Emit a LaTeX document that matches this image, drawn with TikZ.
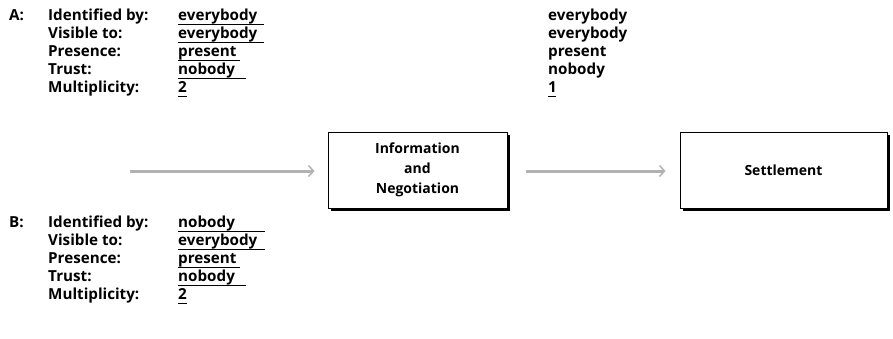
\documentclass[tikz,border=0pt]{standalone}
\usepackage{fontspec}
\setmainfont{Open Sans}
\usetikzlibrary{arrows.meta,shadows}
\begin{document}
\begin{tikzpicture}[x=1pt,y=1pt,
  txt/.style={anchor=base west, inner sep=0pt, font=\bfseries\fontsize{15.2}{18}\selectfont},
  ul/.style={line width=1.4pt},
  box/.style={draw, line width=1pt, fill=white, minimum height=76pt, align=center,
    font=\bfseries\fontsize{14}{20}\selectfont,
    drop shadow={shadow xshift=3pt, shadow yshift=-3pt, fill=black, opacity=1}},
  flow/.style={draw=gray!60, line width=3pt, -{Straight Barb[length=5pt,width=11pt,line width=1.5pt]}}
]
\useasboundingbox (0,0) rectangle (893,-338);

% A block
\node[txt] (A) at (9,-20) {A:};
\node[txt] (aL1) at (48,-20) {Identified by:};
\node[txt] (aL2) at (48,-38) {Visible to:};
\node[txt] (aL3) at (48,-56) {Presence:};
\node[txt] (aL4) at (48,-74) {Trust:};
\node[txt] (aL5) at (48,-92) {Multiplicity:};
\node[txt] (aV1) at (178,-20) {everybody};
\node[txt] (aV2) at (178,-38) {everybody};
\node[txt] (aV3) at (178,-56) {present};
\node[txt] (aV4) at (178,-74) {nobody};
\node[txt] (aV5) at (178,-92) {2};
\draw[ul] ([yshift=-4.6pt]aV1.base west) -- ++(86,0);
\draw[ul] ([yshift=-4.6pt]aV2.base west) -- ++(86,0);
\draw[ul] ([yshift=-4.6pt]aV3.base west) -- ++(62,0);
\draw[ul] ([yshift=-4.6pt]aV4.base west) -- ++(68,0);
\draw[ul] ([yshift=-4.6pt]aV5.base west) -- ++(9,0);

% B block
\node[txt] (B) at (9,-227) {B:};
\node[txt] (bL1) at (48,-227) {Identified by:};
\node[txt] (bL2) at (48,-245) {Visible to:};
\node[txt] (bL3) at (48,-263) {Presence:};
\node[txt] (bL4) at (48,-281) {Trust:};
\node[txt] (bL5) at (48,-299) {Multiplicity:};
\node[txt] (bV1) at (178,-227) {nobody};
\node[txt] (bV2) at (178,-245) {everybody};
\node[txt] (bV3) at (178,-263) {present};
\node[txt] (bV4) at (178,-281) {nobody};
\node[txt] (bV5) at (178,-299) {2};
\draw[ul] ([yshift=-4.6pt]bV1.base west) -- ++(87,0);
\draw[ul] ([yshift=-4.6pt]bV2.base west) -- ++(87,0);
\draw[ul] ([yshift=-4.6pt]bV3.base west) -- ++(62,0);
\draw[ul] ([yshift=-4.6pt]bV4.base west) -- ++(68,0);
\draw[ul] ([yshift=-4.6pt]bV5.base west) -- ++(9,0);

% right column
\node[txt] (cV1) at (548,-20) {everybody};
\node[txt] (cV2) at (548,-38) {everybody};
\node[txt] (cV3) at (548,-56) {present};
\node[txt] (cV4) at (548,-74) {nobody};
\node[txt] (cV5) at (548,-92) {1};
\draw[ul] ([yshift=-4.6pt]cV5.base west) -- ++(8,0);

% boxes
\node[box, minimum width=179pt] (b1) at (417.5,-170) {Information\\and\\Negotiation};
\node[box, minimum width=207pt] (b2) at (783.5,-170) {Settlement};

% arrows
\coordinate (s1) at (130,-171);
\draw[flow] (s1) -- ([xshift=-13pt,yshift=-1pt]b1.west);
\draw[flow] ([xshift=18pt,yshift=-1pt]b1.east) -- ([xshift=-14pt,yshift=-1pt]b2.west);
\end{tikzpicture}
\end{document}
